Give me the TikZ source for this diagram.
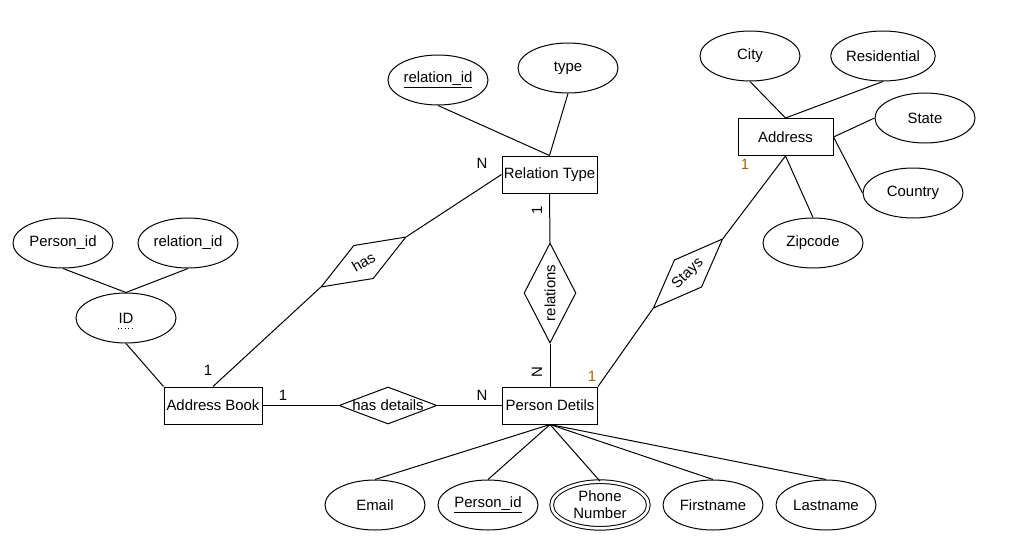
\documentclass[tikz,border=0pt]{standalone}
\usepackage{fontspec}
\setmainfont{Liberation Sans}
\usetikzlibrary{shapes.geometric}
\definecolor{cardbrown}{RGB}{170,100,10}

\begin{document}
\begin{tikzpicture}[x=0.75pt,y=-0.75pt,
  every node/.style={font=\fontsize{11.2}{12.75}\selectfont},
  entity/.style={draw, rectangle, minimum width=71.25pt, minimum height=27.75pt, inner sep=0pt, line width=0.75pt},
  attr/.style={draw, ellipse, minimum width=75pt, minimum height=37.5pt, inner sep=0pt, line width=0.75pt},
  rel/.style={draw, diamond, inner sep=0pt, line width=0.75pt},
  reltext/.style={inner sep=0pt},
  card/.style={inner sep=0pt},
  conn/.style={line width=0.75pt}
]
\useasboundingbox (0,0) rectangle (1009,557);

% entities
\node[entity] (rtype) at (549.5,174.5) {Relation Type};
\node[entity] (addr)  at (785.5,137)   {Address};
\node[entity, minimum width=73.5pt] (abook) at (213,405.5) {Address Book};
\node[entity] (pdet)  at (550,405.5)   {Person Detils};

% attributes of Relation Type
\node[attr] (relid) at (438,80) {\underline{relation\_id}};
\node[attr] (type)  at (568,68) {type};

% attributes of Address
\node[attr] (city)    at (750,56)  {City};
\node[attr] (resid)   at (883,56)  {Residential};
\node[attr] (state)   at (925,118) {State};
\node[attr] (country) at (913,193) {Country};
\node[attr] (zip)     at (813,243) {Zipcode};

% composite key of Address Book
\node[attr] (pidA)   at (63,243)  {Person\_id};
\node[attr] (relidA) at (188,243) {relation\_id};
\node[attr] (idn)    at (126,318) {ID};
\draw[dotted, line width=0.6pt] ([shift={(-8,10)}]idn.center) -- ([shift={(8,10)}]idn.center);

% attributes of Person Detils
\node[attr] (email) at (375,505) {Email};
\node[attr] (pidB)  at (488,505) {\underline{Person\_id}};
\node[attr, double, double distance=2pt, minimum width=72.5pt, minimum height=35pt, align=center] (phone) at (600,505) {Phone\\Number};
\node[attr] (first) at (713,505) {Firstname};
\node[attr] (last)  at (826,505) {Lastname};

% relationships
\node[rel, minimum width=73.5pt, minimum height=27.75pt] (hasd) at (388,405.5) {};
\node[reltext] (hasdT) at (hasd.center) {has details};
\node[rel, rotate=90, minimum width=75pt, minimum height=39pt] (rels) at (550,293) {};
\node[reltext, rotate=90] (relsT) at (rels.center) {relations};
\node[rel, rotate=30.5, minimum width=74pt, minimum height=29pt] (has) at (363.5,262) {};
\node[reltext, rotate=30.5] (hasT) at (has.center) {has};
\node[rel, rotate=45, minimum width=73.5pt, minimum height=29pt] (stays) at (688,273.5) {};
\node[reltext, rotate=45] (staysT) at (stays.center) {Stays};

% connectors
\draw[conn] (relid.south) -- (rtype.north);
\draw[conn] (type.south) -- (rtype.north);
\draw[conn] (city.south) -- (addr.north);
\draw[conn] (resid.south) -- (addr.north);
\draw[conn] (state.west) -- (addr.east);
\draw[conn] (country.west) -- (addr.east);
\draw[conn] (zip.north) -- (addr.south);
\draw[conn] (pidA.south) -- (idn.north);
\draw[conn] (relidA.south) -- (idn.north);
\draw[conn] (idn.south) -- (abook.north west);
\draw[conn] (abook.east) -- (hasd.west);
\draw[conn] (hasd.east) -- (pdet.west);
\draw[conn] (abook.north) -- (has.west);
\draw[conn] (has.east) -- (rtype.west);
\draw[conn] (rtype.south) -- (rels.east);
\draw[conn] (rels.west) -- (pdet.north);
\draw[conn] (pdet.north east) -- (stays.west);
\draw[conn] (stays.east) -- (addr.south);
\foreach \a in {email,pidB,phone,first,last}
  \draw[conn] (pdet.south) -- (\a.north);

% cardinalities
\node[card] (cN1) at (482,163) {N};
\node[card, text=cardbrown] (cA1) at (745,164) {1};
\node[card] (cB1) at (208,370) {1};
\node[card] (cB2) at (283,395) {1};
\node[card] (cN2) at (482,395) {N};
\node[card, text=cardbrown] (cP1) at (592,376) {1};
\node[card, rotate=90] (cR1) at (537,210) {1};
\node[card, rotate=90] (cR2) at (537,372) {N};
\end{tikzpicture}
\end{document}
